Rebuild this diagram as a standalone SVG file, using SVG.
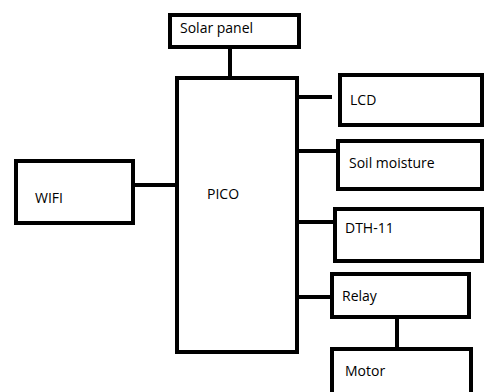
<svg xmlns="http://www.w3.org/2000/svg" width="484" height="392" viewBox="0 0 484 392">
<style>
.box{fill:#fff;stroke:#000;stroke-width:4}
.ln{stroke:#000;stroke-width:4;fill:none}
text{font-family:"Open Sans","Liberation Sans",Arial,sans-serif;font-size:14px;fill:#000}
</style>
<rect width="484" height="392" fill="#fff"/>
<g id="connectors">
<line class="ln" x1="230" y1="47" x2="230" y2="78"/>
<line class="ln" x1="133" y1="185" x2="177" y2="185"/>
<line class="ln" x1="297" y1="97" x2="332" y2="97"/>
<line class="ln" x1="297" y1="151" x2="338" y2="151"/>
<line class="ln" x1="297" y1="222" x2="335" y2="222"/>
<line class="ln" x1="297" y1="297" x2="332" y2="297"/>
<line class="ln" x1="397" y1="317" x2="397" y2="349"/>
</g>
<g id="solar"><rect class="box" x="170" y="15" width="129" height="32"/><text x="180" y="33">Solar panel</text></g>
<g id="pico"><rect class="box" x="177" y="78" width="120" height="274"/><text x="207" y="199">PICO</text></g>
<g id="wifi"><rect class="box" x="16" y="161" width="117" height="62"/><text x="35" y="203">WIFI</text></g>
<g id="lcd"><rect class="box" x="340" y="75" width="142" height="50"/><text x="350" y="105">LCD</text></g>
<g id="soil"><rect class="box" x="338" y="141" width="144" height="48"/><text x="349" y="168">Soil moisture</text></g>
<g id="dth"><rect class="box" x="335" y="209" width="147" height="52"/><text x="345" y="233">DTH-11</text></g>
<g id="relay"><rect class="box" x="332" y="274" width="137" height="43"/><text x="342" y="301">Relay</text></g>
<g id="motor"><rect class="box" x="332" y="349" width="139" height="50"/><text x="345" y="376">Motor</text></g>
</svg>
